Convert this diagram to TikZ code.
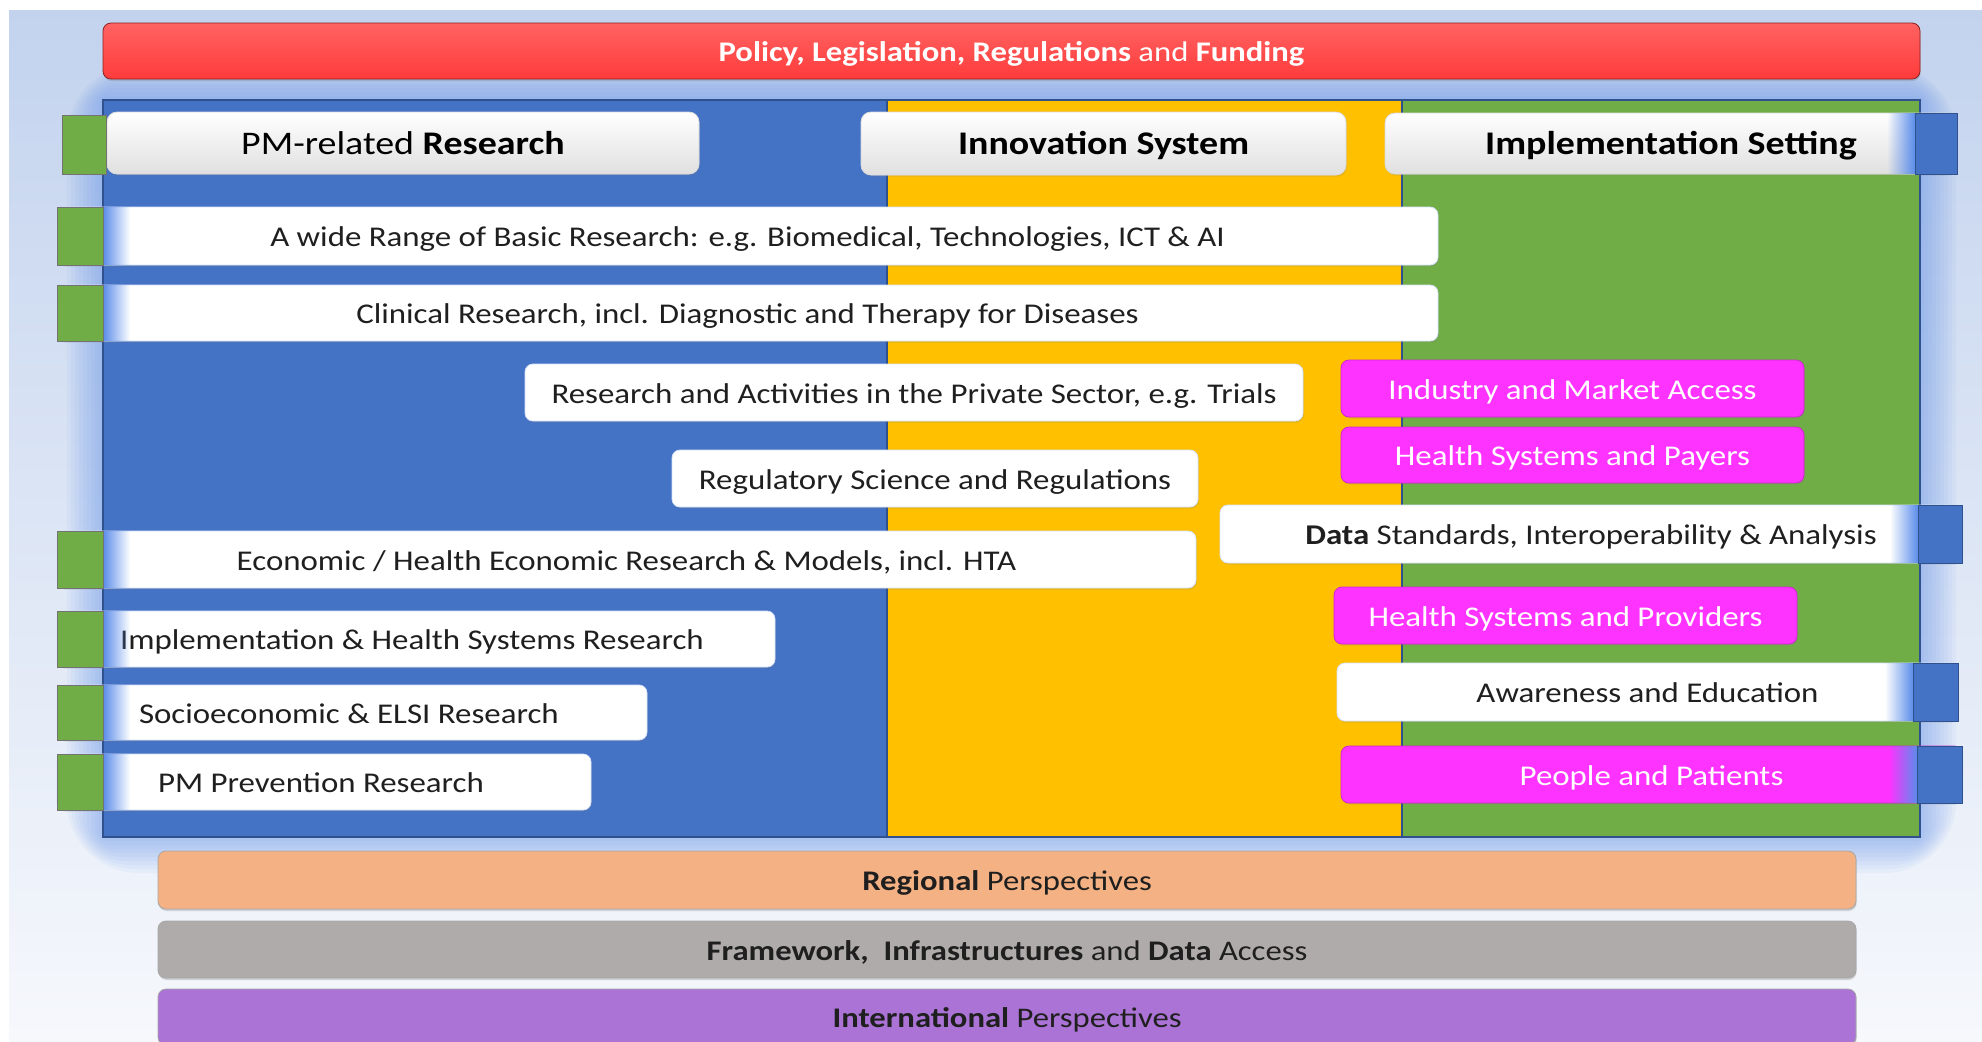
\documentclass[tikz,border=0pt]{standalone}
\usepackage{fontspec}
\setmainfont{Carlito}[FakeStretch=1.15]
\usetikzlibrary{shadows,fadings}

\definecolor{bgtop}{HTML}{C3D3EE}
\definecolor{bgbot}{HTML}{F6F8FC}
\definecolor{polred}{HTML}{FF3B3B}
\definecolor{resblue}{HTML}{4472C4}
\definecolor{innyellow}{HTML}{FFC000}
\definecolor{impgreen}{HTML}{70AD47}
\definecolor{glowblue}{HTML}{5B8DEB}
\definecolor{pmmagenta}{HTML}{FF33FF}
\definecolor{regorange}{HTML}{F4B183}
\definecolor{frmgrey}{HTML}{AFABAB}
\definecolor{intpurple}{HTML}{AA73D5}
\definecolor{edgeblue}{HTML}{2F528F}

\tikzset{
  every node/.style={inner sep=0pt, outer sep=0pt},
  rowfont/.style={font=\fontsize{14.3}{16}\selectfont, text height=10.7pt, text depth=0pt},
  rowbox/.style={rectangle, anchor=north west, rounded corners=4pt, fill=white, draw=glowblue!25,
    drop shadow={opacity=0.2, shadow xshift=0.5pt, shadow yshift=-0.8pt},
    rowfont, text=black!88},
  magbox/.style={rowbox, fill=pmmagenta, draw=pmmagenta!80!black, text=white},
  headbox/.style={rowbox, rounded corners=5pt, top color=white, bottom color=black!12, draw=black!15,
    font=\fontsize{16.5}{19}\selectfont, text height=11.3pt, text=black},
  barbox/.style={rectangle, anchor=north west, rounded corners=4pt, draw=black!35,
    font=\fontsize{14.2}{16}\selectfont, text height=10.65pt, text depth=0pt, text=black!88,
    drop shadow={opacity=0.3, shadow yshift=-1pt, shadow xshift=0.3pt}},
  rowtext/.style={anchor=west, rowfont, text=black!88},
  gsq/.style={fill=impgreen, draw=black!55, line width=0.4pt},
  bsq/.style={fill=resblue, draw=edgeblue, line width=0.4pt},
}

\begin{document}
\begin{tikzpicture}[x=0.5pt, y=-0.5pt]
  \useasboundingbox (0,0) rectangle (1982,1041);
  % background
  \shade[top color=bgtop, bottom color=bgbot] (9,10) rectangle (1982,1041);

  % glow round the three columns
  \foreach \d in {4,8,...,36}
    \fill[glowblue, opacity=0.06, rounded corners=\d pt] ({103-\d},{100-\d}) rectangle ({1920+\d},{837+\d});

  % top bar
  \node[barbox, top color=polred!80!white, bottom color=polred, draw=polred!55!black,
    minimum width=908.5pt, minimum height=28pt, text=white] (policy) at (103,23)
    {\textbf{Policy, Legislation, Regulations} and \textbf{Funding}};

  % columns
  \fill[resblue] (103,100) rectangle (887,837);
  \fill[innyellow] (887,100) rectangle (1402,837);
  \fill[impgreen] (1402,100) rectangle (1920,837);
  \draw[edgeblue, line width=0.6pt] (103,100) rectangle (1920,837)
    (887,100) -- (887,837) (1402,100) -- (1402,837);

  % column heads
  \node[headbox, minimum width=296pt, minimum height=31pt] (research) at (107,112) {PM-related \textbf{Research}};
  \node[headbox, minimum width=242.5pt, minimum height=31.5pt] (innovation) at (861,112) {\textbf{Innovation System}};
  \node[headbox, minimum width=286pt, minimum height=30.5pt] (setting) at (1385,113) {\textbf{Implementation Setting}};

  % research rows
  \node[rowbox, minimum width=690.5pt, minimum height=29pt] (basic) at (57,207) {A wide Range of Basic Research: e.g. Biomedical, Technologies, ICT \& AI};
  \node[rowbox, minimum width=690.5pt, minimum height=28pt] (clinical) at (57,285) {Clinical Research, incl. Diagnostic and Therapy for Diseases};
  \node[rowbox, minimum width=389pt, minimum height=28.5pt] (private) at (525,364) {Research and Activities in the Private Sector, e.g. Trials};
  \node[rowbox, minimum width=263pt, minimum height=28.5pt] (regulatory) at (672,450) {Regulatory Science and Regulations};
  \node[rowbox, minimum width=569.5pt, minimum height=28.5pt] (economic) at (57,531) {Economic / Health Economic Research \& Models, incl. HTA};
  \node[rowbox, minimum width=359pt, minimum height=28pt] (implres) at (57,611) {};
  \node[rowtext] (implres-text) at (120,639) {Implementation \& Health Systems Research};
  \node[rowbox, minimum width=295pt, minimum height=27.5pt] (socio) at (57,685) {};
  \node[rowtext] (socio-text) at (139,712.5) {Socioeconomic \& ELSI Research};
  \node[rowbox, minimum width=267pt, minimum height=28pt] (prevention) at (57,754) {};
  \node[rowtext] (prevention-text) at (158,782) {PM Prevention Research};

  % setting rows
  \node[magbox, minimum width=231.5pt, minimum height=28.5pt] (industry) at (1341,360) {Industry and Market Access};
  \node[magbox, minimum width=231.5pt, minimum height=28pt] (payers) at (1341,427) {Health Systems and Payers};
  \node[rowbox, minimum width=371pt, minimum height=29pt] (data) at (1220,505) {\textbf{Data} Standards, Interoperability \& Analysis};
  \node[magbox, minimum width=231.5pt, minimum height=28.5pt] (providers) at (1334,587) {Health Systems and Providers};
  \node[rowbox, minimum width=310.5pt, minimum height=29pt] (awareness) at (1337,663) {Awareness and Education};
  \node[magbox, minimum width=310.5pt, minimum height=28.5pt] (patients) at (1341,746) {People and Patients};

  % green tabs on the left
  \draw[gsq] (62,115) rectangle (106,174);
  \foreach \ya/\yb in {207/265, 285/341, 531/588, 611/667, 685/740, 754/810} {
    \fill[glowblue, path fading=east] (103,\ya) rectangle (130,\yb);
    \draw[gsq] (57,\ya) rectangle (103,\yb);
  }
  % blue tabs on the right
  \foreach \xa/\xb/\ya/\yb in {1915/1957/113/174, 1918/1962/505/563, 1913/1958/663/721, 1917/1962/746/803} {
    \fill[glowblue, path fading=west] ({\xa-28},\ya) rectangle (\xa,\yb);
    \draw[bsq] (\xa,\ya) rectangle (\xb,\yb);
  }

  % bottom bars
  \node[barbox, fill=regorange, minimum width=849pt, minimum height=29pt] (regional) at (158,851) {\textbf{Regional} Perspectives};
  \node[barbox, fill=frmgrey, minimum width=849pt, minimum height=28.5pt] (framework) at (158,921) {\textbf{Framework,\ \ Infrastructures} and \textbf{Data} Access};
  \node[barbox, fill=intpurple, minimum width=849pt, minimum height=28pt] (international) at (158,989) {\textbf{International} Perspectives};
\end{tikzpicture}
\end{document}
